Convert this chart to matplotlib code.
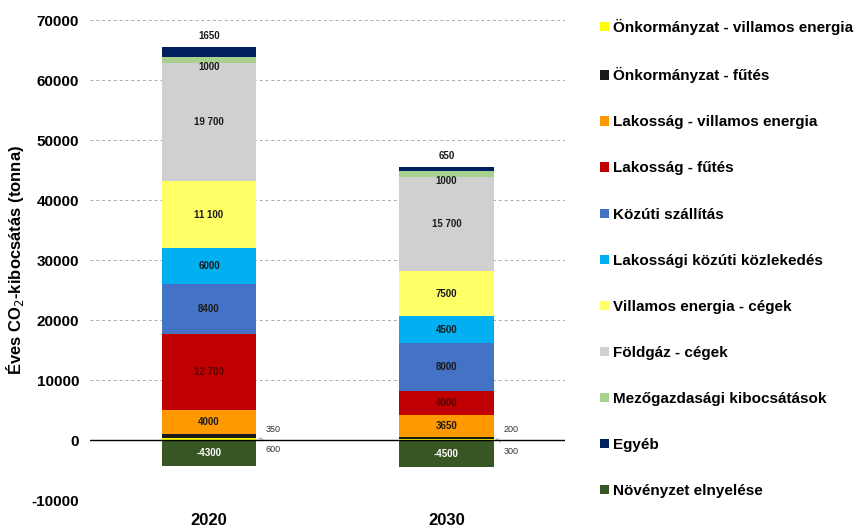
import matplotlib
matplotlib.use("Agg")
import matplotlib.pyplot as plt
from matplotlib.patches import Patch

plt.rcParams['font.family'] = ['Liberation Sans', 'DejaVu Sans']
plt.rcParams['axes.unicode_minus'] = False

# adatok
evek = ["2020", "2030"]
kategoriak = [
    "Önkormányzat - villamos energia",
    "Önkormányzat - fűtés",
    "Lakosság - villamos energia",
    "Lakosság - fűtés",
    "Közúti szállítás",
    "Lakossági közúti közlekedés",
    "Villamos energia - cégek",
    "Földgáz - cégek",
    "Mezőgazdasági kibocsátások",
    "Egyéb",
    "Növényzet elnyelése",
]
szinek = ["#ffff00", "#1a1a1a", "#ff9900", "#c00000", "#4472c4", "#00b0f0",
          "#ffff66", "#d0d0d0", "#a9d18e", "#002060", "#375623"]

ertekek_2020 = [350, 600, 4000, 12700, 8400, 6000, 11100, 19700, 1000, 1650, -4300]
ertekek_2030 = [200, 300, 3650, 4000, 8000, 4500, 7500, 15700, 1000, 650, -4500]
cimkek_2020 = ["350", "600", "4000", "12 700", "8400", "6000", "11 100", "19 700", "1000", "1650", "-4300"]
cimkek_2030 = ["200", "300", "3650", "4000", "8000", "4500", "7500", "15 700", "1000", "650", "-4500"]

fig = plt.figure(figsize=(8.6, 5.31), dpi=100)
ax = fig.add_axes([0.105, 0.058, 0.552, 0.904])

szel = 0.4
for i, (ertekek, cimkek) in enumerate([(ertekek_2020, cimkek_2020), (ertekek_2030, cimkek_2030)]):
    alap = 0
    for k in range(len(ertekek)):
        v = ertekek[k]
        if v < 0:
            ax.bar(i, v, szel, bottom=0, color=szinek[k], zorder=3)
            ax.text(i, v / 2, cimkek[k], ha="center", va="center", fontsize=7,
                    color="white", fontweight="bold", zorder=4)
            continue
        ax.bar(i, v, szel, bottom=alap, color=szinek[k], zorder=3)
        kozep = alap + v / 2
        if k == 0:
            ax.annotate(cimkek[k], xy=(i + szel / 2 + 0.01, kozep), xytext=(i + szel / 2 + 0.04, kozep + 1600),
                        fontsize=6.5, va="center", color="#333333",
                        arrowprops=dict(arrowstyle="-", color="#999999", lw=0.6))
        elif k == 1:
            ax.annotate(cimkek[k], xy=(i + szel / 2 + 0.01, kozep), xytext=(i + szel / 2 + 0.04, kozep - 2200),
                        fontsize=6.5, va="center", color="#333333",
                        arrowprops=dict(arrowstyle="-", color="#999999", lw=0.6))
        elif k == 9:
            ax.text(i, alap + v + 1000, cimkek[k], ha="center", va="bottom", fontsize=7,
                    color="#1a1a1a", fontweight="bold", zorder=4)
        elif k == 8:
            ax.text(i, alap + 200, cimkek[k], ha="center", va="top", fontsize=7,
                    color="#1a1a1a", fontweight="bold", zorder=4)
        else:
            szin = "#5a0000" if k == 3 else "#1a1a1a"
            ax.text(i, kozep, cimkek[k], ha="center", va="center", fontsize=7,
                    color=szin, fontweight="bold", zorder=4)
        alap += v

ax.set_xlim(-0.5, 1.5)
ax.set_ylim(-10000, 70000)
ax.set_yticks(range(-10000, 70001, 10000))
ax.set_xticks([0, 1])
ax.set_xticklabels(evek, fontsize=12, fontweight="bold")
for t in ax.get_yticklabels():
    t.set_fontweight("bold")
    t.set_fontsize(11)
ax.tick_params(length=0, pad=8)
ax.tick_params(axis="x", pad=9)
ax.grid(axis="y", linestyle=(0, (3, 3)), color="#aaaaaa", lw=0.7, zorder=0)
ax.axhline(0, color="black", lw=1, zorder=5)
for s in ax.spines.values():
    s.set_visible(False)
ax.set_ylabel("Éves CO$_2$-kibocsátás (tonna)", fontsize=12, fontweight="bold")
ax.yaxis.set_label_coords(-0.136, 0.5)

kezelok = [Patch(facecolor=c, edgecolor="none") for c in szinek]
fig.legend(kezelok, kategoriak, loc="upper left", bbox_to_anchor=(0.682, 0.99), frameon=False,
           prop={"weight": "bold", "size": 11}, handlelength=0.55, handleheight=0.55,
           handletextpad=0.3, labelspacing=2.1)

fig.savefig("out.png", dpi=100)
